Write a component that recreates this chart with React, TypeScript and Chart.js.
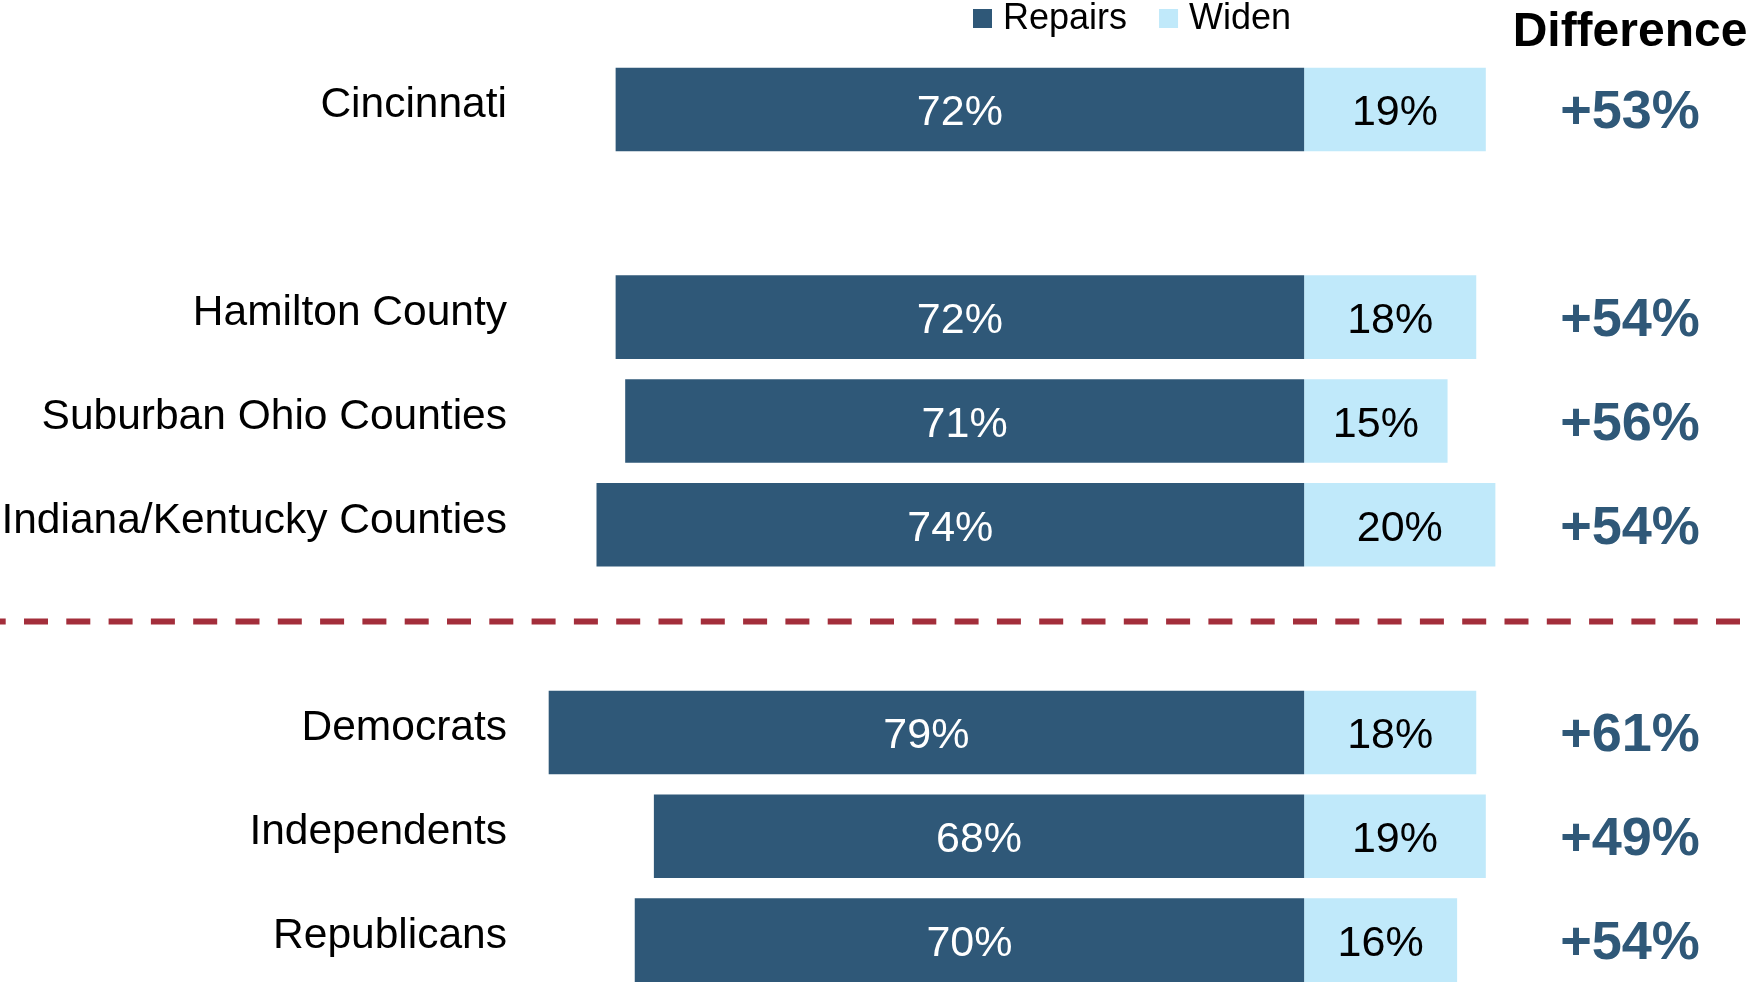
import React, { useEffect, useRef } from "react";
import { Chart, registerables } from "chart.js";

Chart.register(...registerables);

const categories = [
  "Cincinnati",
  "",
  "Hamilton County",
  "Suburban Ohio Counties",
  "Indiana/Kentucky Counties",
  "",
  "Democrats",
  "Independents",
  "Republicans",
];
const repairs: (number | null)[] = [72, null, 72, 71, 74, null, 79, 68, 70];
const widen: (number | null)[] = [19, null, 18, 15, 20, null, 18, 19, 16];
const difference: (number | null)[] = [53, null, 54, 56, 54, null, 61, 49, 54];
const seriesNames = ["Repairs", "Widen"];
const differenceTitle = "Difference";
const separatorAfterRow = 5;

const DARK = "#2F5878";
const LIGHT = "#C0E9FA";
const RED = "#A32E3B";
const FONT = "'Liberation Sans', Arial, Helvetica, sans-serif";

const overlayPlugin = {
  id: "overlay",
  afterDatasetsDraw(chart: any) {
    const ctx = chart.ctx;
    const yScale = chart.scales.y;
    ctx.save();
    // bar value labels
    chart.data.datasets.forEach((ds: any, di: number) => {
      const meta = chart.getDatasetMeta(di);
      meta.data.forEach((el: any, i: number) => {
        const v = ds.data[i];
        if (v === null || v === undefined) return;
        const cx = (el.x + el.base) / 2;
        ctx.font = `43px ${FONT}`;
        ctx.fillStyle = di === 0 ? "#FFFFFF" : "#000000";
        ctx.textAlign = "center";
        ctx.textBaseline = "middle";
        ctx.fillText(`${Math.abs(v)}%`, cx, el.y + 4);
      });
    });
    // difference column
    const meta0 = chart.getDatasetMeta(0);
    const diffX = 1630;
    ctx.fillStyle = DARK;
    ctx.font = `bold 54px ${FONT}`;
    ctx.textAlign = "center";
    ctx.textBaseline = "middle";
    difference.forEach((d, i) => {
      if (d === null) return;
      ctx.fillText(`+${d}%`, diffX, meta0.data[i].y + 4);
    });
    ctx.fillStyle = "#000000";
    ctx.font = `bold 48px ${FONT}`;
    ctx.textBaseline = "alphabetic";
    ctx.fillText(differenceTitle, diffX, 46);

    // dashed separator
    const ySep = yScale.getPixelForValue(separatorAfterRow) - 7;
    ctx.strokeStyle = RED;
    ctx.lineWidth = 6;
    ctx.setLineDash([24, 18.3]);
    ctx.beginPath();
    ctx.moveTo(-18.3, ySep);
    ctx.lineTo(chart.width, ySep);
    ctx.stroke();
    ctx.setLineDash([]);

    // legend
    const colors = [DARK, LIGHT];
    let lx = 973;
    ctx.font = `36px ${FONT}`;
    ctx.textAlign = "left";
    ctx.textBaseline = "middle";
    seriesNames.forEach((name, i) => {
      ctx.fillStyle = colors[i];
      ctx.fillRect(lx, 9, 19, 19);
      ctx.fillStyle = "#000000";
      ctx.fillText(name, lx + 30, 19);
      lx += 30 + ctx.measureText(name).width + 32;
    });
    ctx.restore();
  },
};

export default function App() {
  const ref = useRef<HTMLCanvasElement | null>(null);
  useEffect(() => {
    if (!ref.current) return;
    Chart.defaults.font.family = FONT;
    const chart = new Chart(ref.current, {
      type: "bar",
      data: {
        labels: categories,
        datasets: [
          {
            label: seriesNames[0],
            data: repairs.map((v) => (v === null ? null : -v)),
            backgroundColor: DARK,
            barPercentage: 0.805,
            categoryPercentage: 1,
          },
          {
            label: seriesNames[1],
            data: widen,
            backgroundColor: LIGHT,
            barPercentage: 0.805,
            categoryPercentage: 1,
          },
        ],
      },
      options: {
        indexAxis: "y",
        responsive: false,
        animation: false,
        devicePixelRatio: 1,
        layout: { padding: { left: 0, top: 57.6, right: 4, bottom: 3 } },
        plugins: {
          legend: { display: false },
          tooltip: { enabled: false },
        },
        scales: {
          x: {
            stacked: true,
            display: false,
            min: -82,
            max: 46,
          },
          y: {
            stacked: true,
            grid: { display: false, drawTicks: false, tickLength: 0 },
            border: { display: false },
            afterFit: (scale: any) => {
              scale.width = 520;
              scale.paddingTop = 0;
              scale.paddingBottom = 0;
            },
            ticks: {
              padding: 13,
              labelOffset: -4,
              color: "#000000",
              autoSkip: false,
              font: { size: 42.5, family: FONT },
            },
          },
        },
      } as any,
      plugins: [overlayPlugin],
    });
    return () => chart.destroy();
  }, []);

  return (
    <div
      style={{
        position: "fixed",
        left: 0,
        top: 0,
        width: 1748,
        height: 983,
        overflow: "hidden",
        background: "#FFFFFF",
      }}
    >
      <canvas ref={ref} width={1748} height={995} style={{ display: "block" }} />
    </div>
  );
}
